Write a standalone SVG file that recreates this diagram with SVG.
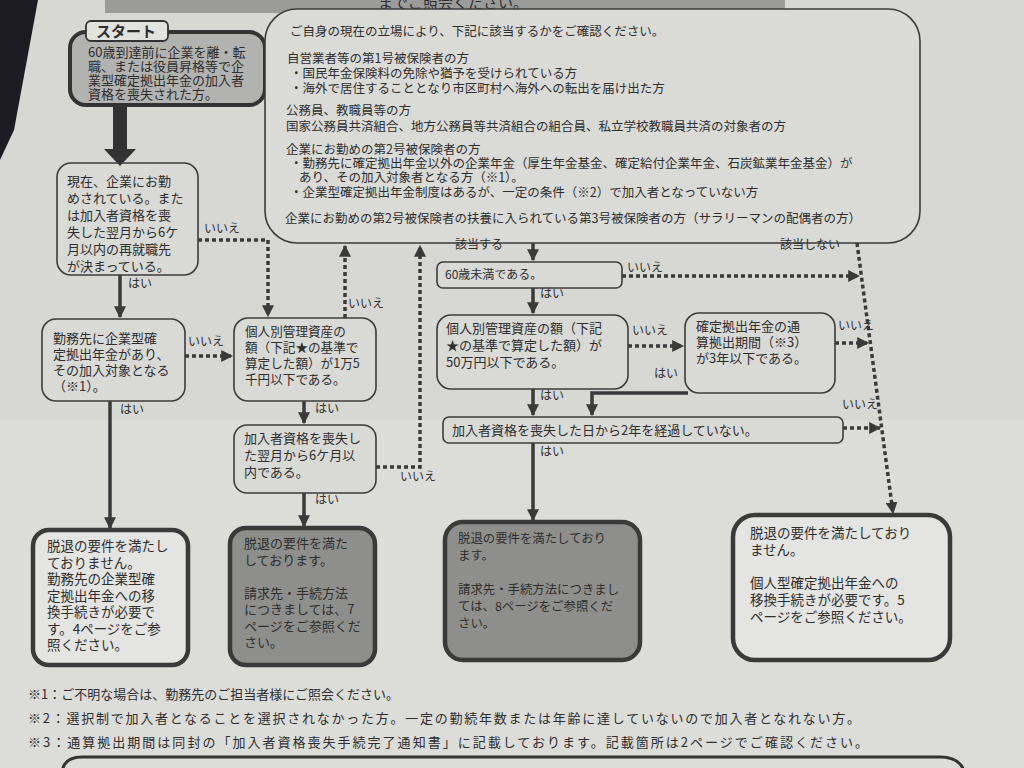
<svg xmlns="http://www.w3.org/2000/svg" width="1024" height="768" viewBox="0 0 1024 768">
<defs>
<marker id="ah" viewBox="0 0 10 10" refX="9" refY="5" markerWidth="12" markerHeight="12" markerUnits="userSpaceOnUse" orient="auto">
<path d="M0,0 L10,5 L0,10 z" fill="#3a3a3a"/>
</marker>
<style>
text{font-family:"Noto Sans CJK JP","Noto Sans",sans-serif;fill:#2e2e2e;}
.t{font-size:13px;}
.s{font-size:12.5px;}
.lbl{font-size:12px;}
.dec{fill:#d9d9d6;stroke:#3c3c3c;stroke-width:1.6;}
.fin{stroke:#3a3a3a;stroke-width:4.5;}
.white{fill:#e4e4e2;}
.gray{fill:#8e8e8c;}
.solid{fill:none;stroke:#3a3a3a;stroke-width:3.5;}
.dot{fill:none;stroke:#3a3a3a;stroke-width:3.5;stroke-dasharray:4 3;}
</style>
</defs>
<rect x="0" y="0" width="1024" height="768" fill="#d7d7d4"/>
<rect x="0" y="420" width="1024" height="348" fill="#dcdcd9"/>
<polygon points="0,0 38,0 14,130 0,160" fill="#1c1c22"/>
<rect x="105" y="-6" width="680" height="19" fill="#9b9b99"/>
<text x="378" y="8" style="font-size:15px">までご照会ください。</text>

<g id="start">
<rect x="70" y="32" width="195" height="73" rx="16" fill="#b2b2b0" stroke="#333" stroke-width="4"/>
<rect x="86" y="21" width="82" height="20" rx="5" fill="#e2e2df" stroke="#333" stroke-width="1.8"/>
<text x="96" y="37" style="font-size:15px;font-weight:bold">スタート</text>
<text class="t" x="88" y="57">60歳到達前に企業を離・転<tspan x="88" dy="14">職、または役員昇格等で企</tspan><tspan x="88" dy="14">業型確定拠出年金の加入者</tspan><tspan x="88" dy="14">資格を喪失された方。</tspan></text>
</g>

<g id="conditions">
<rect x="265" y="9" width="655" height="234" rx="32" fill="#dadad7" stroke="#3c3c3c" stroke-width="1.6"/>
<text class="s" x="290" y="36">ご自身の現在の立場により、下記に該当するかをご確認ください。</text>
<text class="s" x="287" y="63">自営業者等の第1号被保険者の方</text>
<text class="s" x="290" y="78">・国民年金保険料の免除や猶予を受けられている方</text>
<text class="s" x="290" y="93">・海外で居住することとなり市区町村へ海外への転出を届け出た方</text>
<text class="s" x="286" y="115">公務員、教職員等の方</text>
<text class="s" x="286" y="131">国家公務員共済組合、地方公務員等共済組合の組合員、私立学校教職員共済の対象者の方</text>
<text class="s" x="286" y="154">企業にお勤めの第2号被保険者の方</text>
<text class="s" x="290" y="168">・勤務先に確定拠出年金以外の企業年金（厚生年金基金、確定給付企業年金、石炭鉱業年金基金）が</text>
<text class="s" x="299" y="182">あり、その加入対象者となる方（※1）。</text>
<text class="s" x="290" y="197">・企業型確定拠出年金制度はあるが、一定の条件（※2）で加入者となっていない方</text>
<text class="s" x="285" y="223">企業にお勤めの第2号被保険者の扶養に入られている第3号被保険者の方（サラリーマンの配偶者の方）</text>
</g>

<g id="employed">
<rect class="dec" x="57" y="163" width="141" height="112" rx="14"/>
<text class="t" x="67" y="186">現在、企業にお勤<tspan x="67" dy="17">めされている。また</tspan><tspan x="67" dy="17">は加入者資格を喪</tspan><tspan x="67" dy="17">失した翌月から6ケ</tspan><tspan x="67" dy="17">月以内の再就職先</tspan><tspan x="67" dy="17">が決まっている。</tspan></text>
</g>

<g id="corpdc">
<rect class="dec" x="42" y="319" width="143" height="82" rx="14"/>
<text class="t" x="53" y="343">勤務先に企業型確<tspan x="53" dy="16">定拠出年金があり、</tspan><tspan x="53" dy="16">その加入対象となる</tspan><tspan x="53" dy="16">（※1）。</tspan></text>
</g>

<g id="asset15k">
<rect class="dec" x="234" y="318" width="142" height="83" rx="14"/>
<text class="t" x="245" y="336" style="font-size:12.6px">個人別管理資産の<tspan x="245" dy="16">額（下記★の基準で</tspan><tspan x="245" dy="16">算定した額）が1万5</tspan><tspan x="245" dy="16">千円以下である。</tspan></text>
</g>

<g id="within6m">
<rect class="dec" x="234" y="425" width="142" height="68" rx="13"/>
<text class="t" x="244" y="443">加入者資格を喪失し<tspan x="244" dy="17">た翌月から6ケ月以</tspan><tspan x="244" dy="17">内である。</tspan></text>
</g>

<g id="under60">
<rect class="dec" x="437" y="262" width="185" height="26" rx="6"/>
<text class="s" x="445" y="279" style="font-size:12px">60歳未満である。</text>
</g>

<g id="asset500k">
<rect class="dec" x="437" y="315" width="191" height="74" rx="14"/>
<text class="t" x="446" y="333">個人別管理資産の額（下記<tspan x="446" dy="17">★の基準で算定した額）が</tspan><tspan x="446" dy="17">50万円以下である。</tspan></text>
</g>

<g id="period3y">
<rect class="dec" x="685" y="313" width="150" height="80" rx="14"/>
<text class="t" x="696" y="331">確定拠出年金の通<tspan x="696" dy="16">算拠出期間（※3）</tspan><tspan x="696" dy="16">が3年以下である。</tspan></text>
</g>

<g id="within2y">
<rect class="dec" x="443" y="417" width="400" height="26" rx="6"/>
<text class="t" x="452" y="435">加入者資格を喪失した日から2年を経過していない。</text>
</g>

<g id="result1">
<rect class="fin white" x="33" y="530" width="155" height="135" rx="16"/>
<text x="47" y="551" style="font-size:13.5px">脱退の要件を満たし<tspan x="47" dy="16.5">ておりません。</tspan><tspan x="47" dy="16.5">勤務先の企業型確</tspan><tspan x="47" dy="16.5">定拠出年金への移</tspan><tspan x="47" dy="16.5">換手続きが必要で</tspan><tspan x="47" dy="16.5">す。4ページをご参</tspan><tspan x="47" dy="16.5">照ください。</tspan></text>
</g>

<g id="result2">
<rect class="fin gray" x="230" y="528" width="145" height="137" rx="16"/>
<text x="244" y="548" style="font-size:13px">脱退の要件を満た<tspan x="244" dy="16.5">しております。</tspan><tspan x="244" dy="33">請求先・手続方法</tspan><tspan x="244" dy="16.5">につきましては、7</tspan><tspan x="244" dy="16.5">ページをご参照くだ</tspan><tspan x="244" dy="16.5">さい。</tspan></text>
</g>

<g id="result3">
<rect class="fin gray" x="445" y="522" width="195" height="138" rx="18"/>
<text x="458" y="543" style="font-size:12.4px">脱退の要件を満たしており<tspan x="458" dy="17">ます。</tspan><tspan x="458" dy="34">請求先・手続方法につきまし</tspan><tspan x="458" dy="17">ては、8ページをご参照くだ</tspan><tspan x="458" dy="17">さい。</tspan></text>
</g>

<g id="result4">
<rect class="fin white" x="733" y="515" width="217" height="145" rx="22"/>
<text x="750" y="538" style="font-size:13.5px">脱退の要件を満たしており<tspan x="750" dy="17">ません。</tspan><tspan x="750" dy="33">個人型確定拠出年金への</tspan><tspan x="750" dy="17">移換手続きが必要です。5</tspan><tspan x="750" dy="17">ページをご参照ください。</tspan></text>
</g>

<g id="connectors">
<polygon points="113,105 127,105 127,149 136,149 120,166 104,149 113,149" fill="#333"/>
<path class="solid" d="M120,275 L120,317" marker-end="url(#ah)"/>
<path class="dot" d="M198,240 L268,240 L268,316" marker-end="url(#ah)"/>
<path class="dot" d="M185,356 L232,356" marker-end="url(#ah)"/>
<path class="solid" d="M110,401 L110,528" marker-end="url(#ah)"/>
<path class="dot" d="M345,318 L345,246" marker-end="url(#ah)"/>
<path class="solid" d="M304,401 L304,423" marker-end="url(#ah)"/>
<path class="dot" d="M376,467 L420,467 L420,246" marker-end="url(#ah)"/>
<path class="solid" d="M304,493 L304,526" marker-end="url(#ah)"/>
<path class="solid" d="M533,243 L533,260" marker-end="url(#ah)"/>
<path class="dot" d="M622,276 L859,276" marker-end="url(#ah)"/>
<path class="solid" d="M533,288 L533,313" marker-end="url(#ah)"/>
<path class="dot" d="M628,346 L683,346" marker-end="url(#ah)"/>
<path class="dot" d="M835,343 L868,343" marker-end="url(#ah)"/>
<path class="solid" d="M688,393 L592,393 L592,415" marker-end="url(#ah)"/>
<path class="solid" d="M533,389 L533,415" marker-end="url(#ah)"/>
<path class="dot" d="M843,428 L880,428" marker-end="url(#ah)"/>
<path class="solid" d="M533,443 L533,520" marker-end="url(#ah)"/>
<path class="dot" d="M857,243 L893,513" marker-end="url(#ah)"/>
<text class="lbl" x="204" y="233">いいえ</text>
<text class="lbl" x="128" y="288">はい</text>
<text class="lbl" x="188" y="346">いいえ</text>
<text class="lbl" x="120" y="414">はい</text>
<text class="lbl" x="348" y="308">いいえ</text>
<text class="lbl" x="315" y="413">はい</text>
<text class="lbl" x="400" y="481">いいえ</text>
<text class="lbl" x="315" y="504">はい</text>
<text class="lbl" x="455" y="249">該当する</text>
<text class="lbl" x="780" y="249">該当しない</text>
<text class="lbl" x="627" y="272">いいえ</text>
<text class="lbl" x="540" y="298">はい</text>
<text class="lbl" x="632" y="335">いいえ</text>
<text class="lbl" x="654" y="378">はい</text>
<text class="lbl" x="838" y="330">いいえ</text>
<text class="lbl" x="540" y="400">はい</text>
<text class="lbl" x="842" y="409">いいえ</text>
<text class="lbl" x="540" y="456">はい</text>
</g>

<g id="notes">
<text class="t" x="28" y="699">※1：ご不明な場合は、勤務先のご担当者様にご照会ください。</text>
<text class="t" x="28" y="723" textLength="832">※2：選択制で加入者となることを選択されなかった方。一定の勤続年数または年齢に達していないので加入者となれない方。</text>
<text class="t" x="28" y="747" textLength="840">※3：通算拠出期間は同封の「加入者資格喪失手続完了通知書」に記載しております。記載箇所は2ページでご確認ください。</text>
<path d="M62,775 Q62,757 82,757 L940,757 Q962,757 965,775" fill="none" stroke="#333" stroke-width="3"/>
</g>
</svg>
